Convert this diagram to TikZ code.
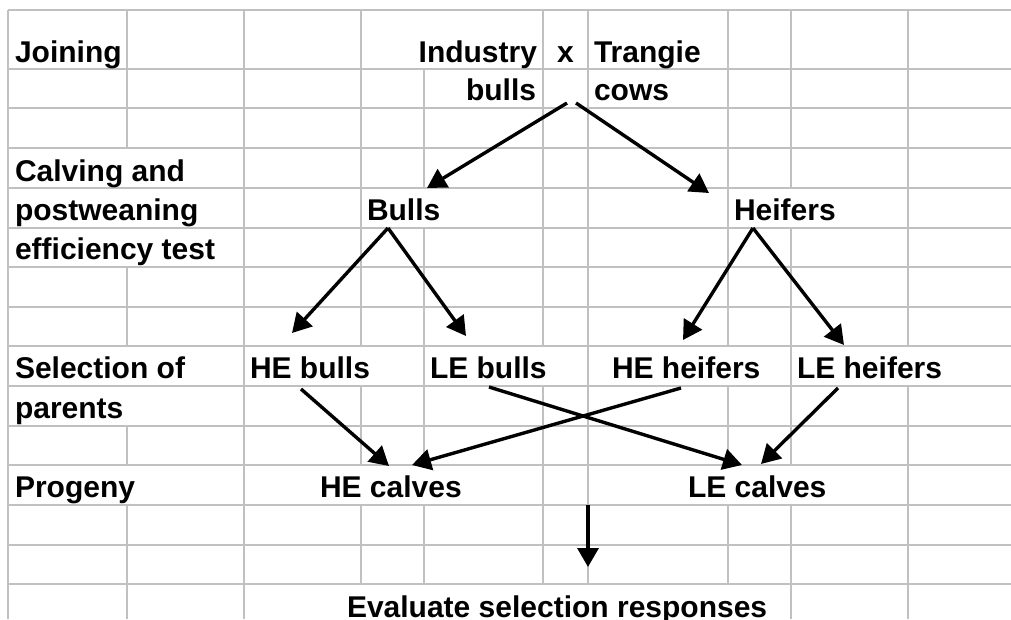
\documentclass[tikz,border=0pt]{standalone}
\usepackage{fontspec}
\setmainfont{Liberation Sans}
\usetikzlibrary{arrows.meta}
\definecolor{gridgray}{RGB}{192,192,192}
\begin{document}
\begin{tikzpicture}[x=1pt,y=-1pt,
  grid/.style={draw=gridgray, line width=1.3pt},
  lbl/.style={inner sep=0pt, outer sep=0pt, font=\fontsize{30}{36}\selectfont\bfseries},
  arr/.style={line width=3.4pt, -{Triangle[length=19pt,width=21pt]}}]
\useasboundingbox (0,0) rectangle (1011,619);
\fill[white] (0,0) rectangle (1011,619);
% vertical grid lines
\foreach \x in {8,127,244,361,424,543,588,728,791,908}
  \draw[grid] (\x,10) -- (\x,619);
% cells where text overflows: no vertical line
\foreach \x/\a/\b in {424/10/69,
  127/148/188, 127/188/228, 424/188/228, 791/188/228, 127/228/267,
  127/346/386, 361/346/386, 543/346/386, 728/346/386, 908/346/386,
  127/386/426,
  127/465/505, 361/465/505, 424/465/505, 728/465/505, 791/465/505,
  361/584/619, 424/584/619, 543/584/619, 588/584/619, 728/584/619}
  \fill[white] (\x-2,\a) rectangle (\x+2,\b);
% horizontal grid lines
\foreach \y in {10,69,108,148,188,228,267,307,346,386,426,465,505,545,584}
  \draw[grid] (8,\y) -- (1011,\y);
% labels
\node[lbl, anchor=base west] (join) at (15,62) {Joining};
\node[lbl, anchor=base east] (ind) at (537,62) {Industry};
\node[lbl, anchor=base] (xx) at (565.5,62) {x};
\node[lbl, anchor=base west] (tra) at (594,62) {Trangie};
\node[lbl, anchor=base east] (indb) at (536,100) {bulls};
\node[lbl, anchor=base west] (cows) at (594,100) {cows};
\node[lbl, anchor=base west] (cal1) at (15,181) {Calving and};
\node[lbl, anchor=base west] (cal2) at (15,220) {postweaning};
\node[lbl, anchor=base west] (cal3) at (15,259) {efficiency test};
\node[lbl, anchor=base west] (bulls) at (367,220) {Bulls};
\node[lbl, anchor=base west] (heif) at (734,220) {Heifers};
\node[lbl, anchor=base west] (sel1) at (15,378) {Selection of};
\node[lbl, anchor=base west] (sel2) at (15,418) {parents};
\node[lbl, anchor=base west] (heb) at (250,378) {HE bulls};
\node[lbl, anchor=base west] (leb) at (430,378) {LE bulls};
\node[lbl, anchor=base west] (heh) at (612,378) {HE heifers};
\node[lbl, anchor=base west] (leh) at (797,378) {LE heifers};
\node[lbl, anchor=base west] (prog) at (15,497) {Progeny};
\node[lbl, anchor=base west] (hec) at (320,497) {HE calves};
\node[lbl, anchor=base west] (lec) at (688,497) {LE calves};
\node[lbl, anchor=base west] (eval) at (347,617) {Evaluate selection responses};
% connector end points
\coordinate (xL) at (567,103);
\coordinate (xR) at (576,103);
\coordinate (bullsIn) at (427,188);
\coordinate (heifIn) at (709,193);
\coordinate (bullsOut) at (388,228);
\coordinate (heifOut) at (753,228);
\coordinate (hebIn) at (292,333);
\coordinate (lebIn) at (466,336);
\coordinate (hehIn) at (683,340);
\coordinate (lehIn) at (844,345);
\coordinate (hebOut) at (301,389);
\coordinate (lebOut) at (489,387);
\coordinate (hehOut) at (681,388);
\coordinate (lehOut) at (838,388);
\coordinate (hecIn1) at (389,466);
\coordinate (hecIn2) at (412,465);
\coordinate (lecIn1) at (742,465);
\coordinate (lecIn2) at (761,464);
\coordinate (downS) at (588,505);
\coordinate (evalIn) at (588,567);
% connectors
\draw[arr] (xL) -- (bullsIn);
\draw[arr] (xR) -- (heifIn);
\draw[arr] (bullsOut) -- (hebIn);
\draw[arr] (bullsOut) -- (lebIn);
\draw[arr] (heifOut) -- (hehIn);
\draw[arr] (heifOut) -- (lehIn);
\draw[arr] (hebOut) -- (hecIn1);
\draw[arr] (hehOut) -- (hecIn2);
\draw[arr] (lebOut) -- (lecIn1);
\draw[arr] (lehOut) -- (lecIn2);
\draw[arr] (downS) -- (evalIn);
\end{tikzpicture}
\end{document}
